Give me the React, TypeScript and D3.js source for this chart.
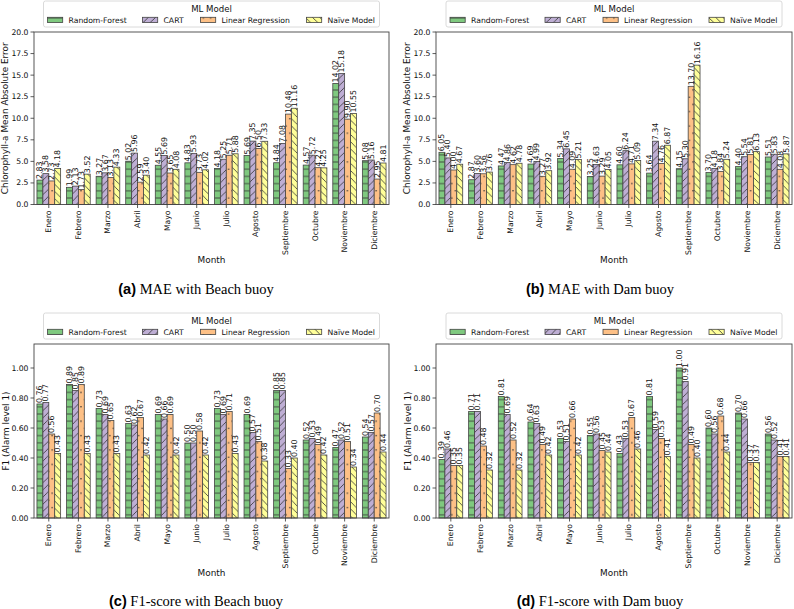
import React from 'react';
import * as d3 from 'd3';

const months = ['Enero', 'Febrero', 'Marzo', 'Abril', 'Mayo', 'Junio', 'Julio', 'Agosto', 'Septiembre', 'Octubre', 'Noviembre', 'Diciembre'];
const models = ['Random-Forest', 'CART', 'Linear Regression', 'Naïve Model'];

// MAE, beach buoy
const maeBeachRF = [2.83, 1.99, 3.27, 5.02, 4.55, 4.83, 4.18, 5.69, 4.84, 4.57, 14.02, 5.08];
const maeBeachCART = [3.58, 2.13, 3.67, 5.96, 5.69, 5.93, 5.25, 7.35, 7.08, 5.72, 15.18, 5.16];
const maeBeachLR = [2.73, 1.73, 3.13, 2.59, 3.65, 3.73, 5.71, 6.50, 10.48, 4.27, 9.90, 2.95];
const maeBeachNaive = [4.18, 3.52, 4.33, 3.40, 4.08, 4.02, 5.88, 7.33, 11.16, 4.25, 10.55, 4.81];

// MAE, dam buoy
const maeDamRF = [6.05, 2.87, 4.47, 4.69, 5.34, 3.25, 4.60, 3.64, 4.15, 3.70, 4.40, 5.51];
const maeDamCART = [5.40, 3.60, 4.86, 4.99, 6.45, 4.63, 6.24, 7.34, 5.30, 4.18, 5.54, 5.83];
const maeDamLR = [4.00, 3.56, 4.62, 3.27, 4.09, 3.29, 4.71, 4.76, 13.70, 3.84, 5.81, 4.08];
const maeDamNaive = [4.67, 3.76, 4.78, 3.92, 5.21, 4.05, 5.09, 6.87, 16.16, 5.24, 6.13, 5.87];

// F1, beach buoy
const f1BeachRF = [0.76, 0.89, 0.73, 0.63, 0.69, 0.50, 0.73, 0.69, 0.85, 0.52, 0.47, 0.54];
const f1BeachCART = [0.77, 0.85, 0.69, 0.62, 0.66, 0.50, 0.69, 0.57, 0.85, 0.53, 0.52, 0.57];
const f1BeachLR = [0.56, 0.89, 0.65, 0.67, 0.69, 0.58, 0.71, 0.51, 0.33, 0.49, 0.51, 0.70];
const f1BeachNaive = [0.43, 0.43, 0.43, 0.42, 0.42, 0.42, 0.43, 0.38, 0.40, 0.42, 0.34, 0.44];

// F1, dam buoy
const f1DamRF = [0.39, 0.71, 0.81, 0.64, 0.53, 0.55, 0.43, 0.81, 1.00, 0.60, 0.70, 0.56];
const f1DamCART = [0.46, 0.71, 0.69, 0.63, 0.51, 0.56, 0.53, 0.59, 0.91, 0.56, 0.66, 0.52];
const f1DamLR = [0.35, 0.48, 0.52, 0.49, 0.66, 0.45, 0.67, 0.53, 0.49, 0.68, 0.37, 0.41];
const f1DamNaive = [0.35, 0.32, 0.32, 0.42, 0.42, 0.44, 0.46, 0.41, 0.40, 0.44, 0.37, 0.41];

const maeTicks = [0, 2.5, 5, 7.5, 10, 12.5, 15, 17.5, 20];
const f1Ticks = [0, 0.2, 0.4, 0.6, 0.8, 1.0];

const colors = ['#7fc97f', '#beaed4', '#fdc086', '#ffff99'];
const hatches = ['hRF', 'hCART', 'hLR', 'hNaive'];
const edge = '#333';
const sans = "'DejaVu Sans', Verdana, sans-serif";

function Panel({ left, right, top, bottom, yMax, ticks, fmt, series, yLabel, yLabelX, tag, caption, captionX, captionY, monthY }) {
  const x0 = d3.scaleBand().domain(months).range([left, right]).paddingInner(0.2).paddingOuter(0.1);
  const x1 = d3.scaleBand().domain(models).range([0, x0.bandwidth()]);
  const y = d3.scaleLinear().domain([0, yMax]).range([bottom, top]);
  const cx = (left + right) / 2;
  const lw = 336;
  const lx = cx - lw / 2;
  const ly = top - 31;
  const entryX = [4, 99, 157, 263];

  return (
    <g fontFamily={sans}>
      {/* bars */}
      {models.map((m, mi) => (
        <g key={m}>
          {series[mi].map((v, i) => {
            const bx = x0(months[i]) + x1(m);
            const by = y(v);
            return (
              <g key={i}>
                <rect x={bx} y={by} width={x1.bandwidth()} height={bottom - by} fill={colors[mi]} />
                <rect x={bx} y={by} width={x1.bandwidth()} height={bottom - by} fill={`url(#${hatches[mi]})`} stroke="#444" strokeWidth={0.8} />
              </g>
            );
          })}
        </g>
      ))}
      {/* value labels */}
      {models.map((m, mi) => (
        <g key={'l' + m}>
          {series[mi].map((v, i) => {
            const tx = x0(months[i]) + x1(m) + x1.bandwidth() / 2;
            const ty = y(v) - 1;
            return (
              <text key={i} transform={`translate(${tx},${ty}) rotate(-90)`} fontSize={7.9} dominantBaseline="central" fill="#111">
                {v.toFixed(2)}
              </text>
            );
          })}
        </g>
      ))}
      {/* frame */}
      <rect x={left} y={top} width={right - left} height={bottom - top} fill="none" stroke="#444" strokeWidth={0.9} />
      {/* y ticks */}
      {ticks.map((t) => (
        <g key={t}>
          <line x1={left - 3.5} x2={left} y1={y(t)} y2={y(t)} stroke="#333" strokeWidth={0.8} />
          <text x={left - 5.5} y={y(t)} textAnchor="end" dominantBaseline="central" fontSize={7.7} fill="#111">
            {fmt(t)}
          </text>
        </g>
      ))}
      {/* x ticks */}
      {months.map((mo) => {
        const tx = x0(mo) + x0.bandwidth() / 2;
        return (
          <g key={mo}>
            <line x1={tx} x2={tx} y1={bottom} y2={bottom + 3.5} stroke="#333" strokeWidth={0.8} />
            <text transform={`translate(${tx},${bottom + 6}) rotate(-90)`} textAnchor="end" dominantBaseline="central" fontSize={7.7} fill="#111">
              {mo}
            </text>
          </g>
        );
      })}
      <text transform={`translate(${yLabelX},${(top + bottom) / 2}) rotate(-90)`} textAnchor="middle" dominantBaseline="central" fontSize={8.9} fill="#111">
        {yLabel}
      </text>
      <text x={cx} y={monthY} textAnchor="middle" dominantBaseline="central" fontSize={8.9} fill="#111">
        Month
      </text>
      {/* legend */}
      <rect x={lx} y={ly} width={lw} height={26} rx={2} fill="#fff" fillOpacity={0.8} stroke="#d0d0d0" strokeWidth={0.8} />
      <text x={cx} y={ly + 8} textAnchor="middle" dominantBaseline="central" fontSize={8.6} fill="#111">
        ML Model
      </text>
      {models.map((m, mi) => (
        <g key={'leg' + m}>
          <rect x={lx + entryX[mi]} y={ly + 16.3} width={15.2} height={5.3} fill={colors[mi]} />
          <rect x={lx + entryX[mi]} y={ly + 16.3} width={15.2} height={5.3} fill={`url(#${hatches[mi]})`} stroke="#444" strokeWidth={0.8} />
          <text x={lx + entryX[mi] + 21} y={ly + 19} dominantBaseline="central" fontSize={7.7} fill="#111">
            {m}
          </text>
        </g>
      ))}
      {/* caption */}
      <text x={captionX} y={captionY} textAnchor="middle" dominantBaseline="central" fontSize={14.5} fill="#000">
        <tspan fontFamily="'Liberation Sans', Arial, sans-serif" fontWeight="bold">{tag}</tspan>
        <tspan fontFamily="'Liberation Serif', 'Times New Roman', serif"> {caption}</tspan>
      </text>
    </g>
  );
}

export default function App() {
  const fmt1 = (t) => t.toFixed(1);
  const fmt2 = (t) => t.toFixed(2);
  const s = 7.2;
  return (
    <svg width={794} height={609} style={{ position: 'absolute', left: 0, top: 0, background: '#fff' }}>
      <defs>
        <pattern id="hRF" patternUnits="userSpaceOnUse" width={s} height={s}>
          <line x1={0} x2={s} y1={s / 2} y2={s / 2} stroke={edge} strokeWidth={0.8} />
        </pattern>
        <pattern id="hCART" patternUnits="userSpaceOnUse" width={s} height={s}>
          <path d={`M0,${s} L${s},0 M${-s / 4},${s / 4} L${s / 4},${-s / 4} M${(3 * s) / 4},${(5 * s) / 4} L${(5 * s) / 4},${(3 * s) / 4}`} stroke={edge} strokeWidth={0.8} />
        </pattern>
        <pattern id="hLR" patternUnits="userSpaceOnUse" width={s} height={s * 2}>
          <circle cx={s / 4} cy={s / 2} r={0.8} fill={edge} />
          <circle cx={(3 * s) / 4} cy={(3 * s) / 2} r={0.8} fill={edge} />
        </pattern>
        <pattern id="hNaive" patternUnits="userSpaceOnUse" width={s} height={s}>
          <path d={`M0,0 L${s},${s} M${-s / 4},${(3 * s) / 4} L${s / 4},${(5 * s) / 4} M${(3 * s) / 4},${-s / 4} L${(5 * s) / 4},${s / 4}`} stroke={edge} strokeWidth={0.8} />
        </pattern>
      </defs>
      <Panel left={34} right={389} top={32} bottom={204.5} yMax={20} ticks={maeTicks} fmt={fmt1}
        series={[maeBeachRF, maeBeachCART, maeBeachLR, maeBeachNaive]}
        yLabel="Chlorophyll-a Mean Absolute Error" yLabelX={5} tag="(a)" caption="MAE with Beach buoy"
        captionX={196} captionY={289} monthY={260} />
      <Panel left={436} right={792} top={32} bottom={204.5} yMax={20} ticks={maeTicks} fmt={fmt1}
        series={[maeDamRF, maeDamCART, maeDamLR, maeDamNaive]}
        yLabel="Chlorophyll-a Mean Absolute Error" yLabelX={407} tag="(b)" caption="MAE with Dam buoy"
        captionX={600} captionY={289} monthY={260} />
      <Panel left={34} right={389} top={344} bottom={518} yMax={1.16} ticks={f1Ticks} fmt={fmt2}
        series={[f1BeachRF, f1BeachCART, f1BeachLR, f1BeachNaive]}
        yLabel="F1 (Alarm level 1)" yLabelX={6} tag="(c)" caption="F1-score with Beach buoy"
        captionX={196} captionY={601} monthY={573} />
      <Panel left={436} right={792} top={344} bottom={518} yMax={1.16} ticks={f1Ticks} fmt={fmt2}
        series={[f1DamRF, f1DamCART, f1DamLR, f1DamNaive]}
        yLabel="F1 (Alarm level 1)" yLabelX={408} tag="(d)" caption="F1-score with Dam buoy"
        captionX={600} captionY={601} monthY={573} />
    </svg>
  );
}
